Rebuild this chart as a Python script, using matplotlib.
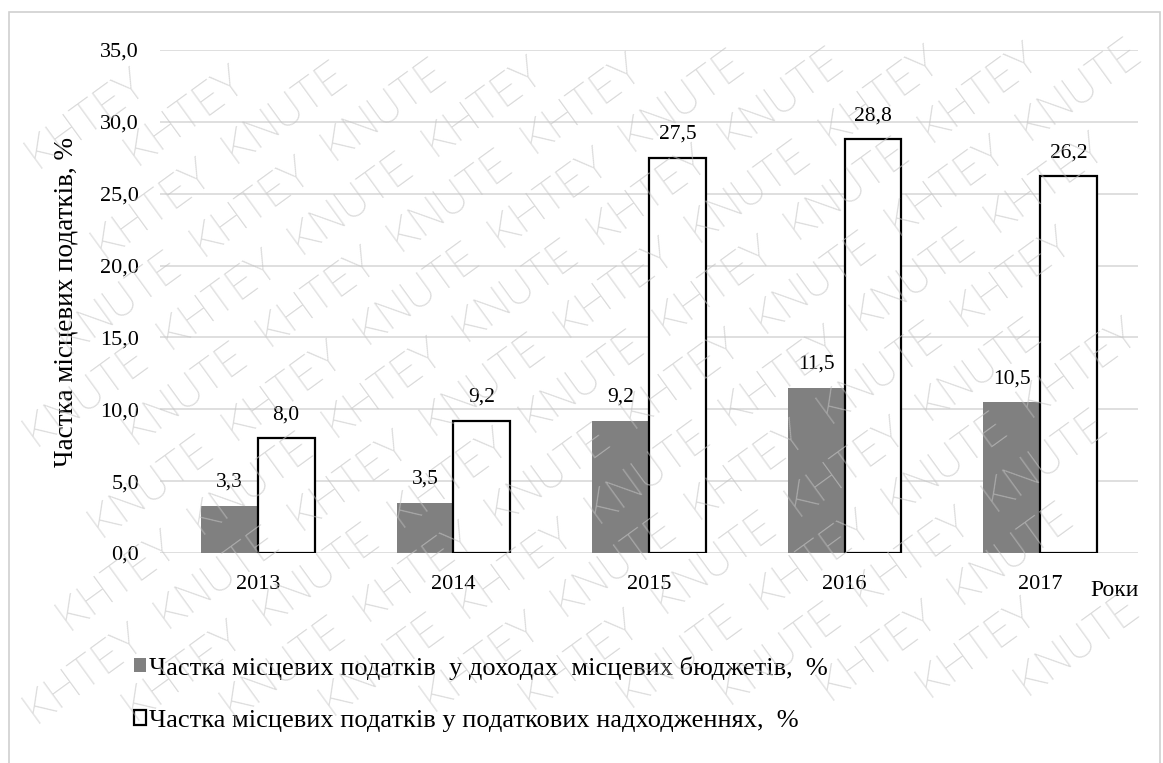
import numpy as np
import matplotlib.pyplot as plt
from matplotlib.patches import Rectangle

plt.rcParams['font.family'] = ['Liberation Serif', 'DejaVu Serif']

# дані
years = ['2013', '2014', '2015', '2016', '2017']
share_budget = [3.3, 3.5, 9.2, 11.5, 10.5]   # частка у доходах місцевих бюджетів
share_tax = [8.0, 9.2, 27.5, 28.8, 26.2]     # частка у податкових надходженнях
label_budget = 'Частка місцевих податків  у доходах  місцевих бюджетів,  %'
label_tax = 'Частка місцевих податків у податкових надходженнях,  %'
yticks = [0, 5, 10, 15, 20, 25, 30, 35]
wm_words = ['KNUTE', 'KHTEY']

W, H = 1163, 763
fig = plt.figure(figsize=(W / 100, H / 100), dpi=100)
ax = fig.add_axes([160 / W, 1 - 553 / H, (1138 - 160) / W, (553 - 50) / H])

x = np.arange(len(years))
bw = 0.29
b1 = ax.bar(x - bw / 2, share_budget, bw, color='#808080', label=label_budget, zorder=2)
b2 = ax.bar(x + bw / 2, share_tax, bw, color='white', edgecolor='black', linewidth=1.6,
            label=label_tax, zorder=2)

for bars, vals in ((b1, share_budget), (b2, share_tax)):
    for r, v in zip(bars, vals):
        ax.annotate(f'{v:.1f}'.replace('.', ','), (r.get_x() + r.get_width() / 2, v),
                    xytext=(0, 10), textcoords='offset points', ha='center', va='bottom',
                    fontsize=15.5)

ax.set_xlim(-0.5, len(years) - 0.5)
ax.set_ylim(0, 35)
ax.set_yticks(yticks)
ax.set_yticklabels([f'{t:.1f}'.replace('.', ',') for t in yticks])
ax.set_xticks(x)
ax.set_xticklabels(years)
ax.tick_params(axis='both', length=0, labelsize=16)
ax.tick_params(axis='y', pad=15)
ax.tick_params(axis='x', pad=16)
ax.grid(axis='y', color='#d9d9d9', linewidth=1.2, zorder=0)
ax.set_axisbelow(True)
for s in ax.spines.values():
    s.set_visible(False)

fig.text(66 / W, 1 - 302 / H, 'Частка місцевих податків, %', rotation=90,
         ha='center', va='center', fontsize=19.5)
fig.text(1115 / W, 1 - 590 / H, 'Роки', ha='center', va='center', fontsize=17)

fig.legend(handles=[b1, b2], loc='upper left', bbox_to_anchor=(134 / W, 1 - 656 / H),
           frameon=False, fontsize=19, handlelength=0.45, handleheight=0.45,
           handletextpad=0.12, labelspacing=1.15, borderpad=0, borderaxespad=0)

# рамка
fig.patches.append(Rectangle((9 / W, -0.05), (1160 - 9) / W, 1.05 - 12 / H,
                             transform=fig.transFigure, fill=False,
                             edgecolor='#d0d0d0', linewidth=1.2))

# водяний знак: окремі слова, лише ті, що повністю в межах рисунка
ang = 36
theta = np.deg2rad(ang)
u = np.array([np.cos(theta), np.sin(theta)])
n = np.array([-np.sin(theta), np.cos(theta)])
c = np.array([W / 2, H / 2])
step, hw, hh = 164, 76, 17
for k in range(-15, 16):
    for j in range(-8, 9):
        p = c + k * 56 * n + (j + 0.5 * (k % 2)) * step * u
        corners = [p + a * hw * u + b * hh * n for a in (-1, 1) for b in (-1, 1)]
        if all(1 <= q[0] <= W - 1 and 1 <= q[1] <= H - 1 for q in corners):
            fig.text(p[0] / W, p[1] / H, wm_words[(j + k) % 2], rotation=ang,
                     rotation_mode='anchor', ha='center', va='center', fontsize=32,
                     family='Roboto', fontweight='light', color='#c4c4c4', alpha=0.62,
                     zorder=10)

fig.savefig('out.png', dpi=100)
